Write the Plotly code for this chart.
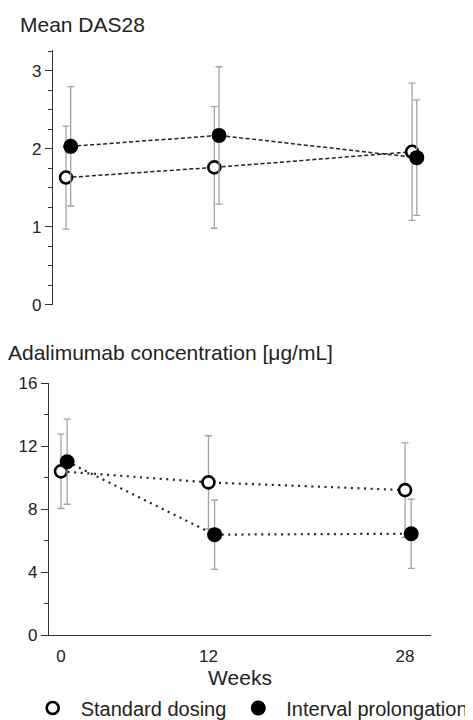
import plotly.graph_objects as go

weeks = [0, 12, 28]
week_labels = ["0", "12", "28"]

das_std_mean = [1.63, 1.76, 1.96]
das_std_sd = [0.66, 0.78, 0.88]
das_int_mean = [2.03, 2.17, 1.885]
das_int_sd = [0.765, 0.88, 0.74]

ada_std_mean = [10.41, 9.71, 9.22]
ada_std_sd = [2.36, 2.96, 3.0]
ada_int_mean = [11.02, 6.39, 6.45]
ada_int_sd = [2.7, 2.2, 2.2]

series_names = ["Standard dosing", "Interval prolongation"]

# page body has an 8px margin: layout is expressed in page pixels minus 8
OFF = 8
W, H = 473, 720
FONT = "Arial, Liberation Sans, sans-serif"
AX = "#333333"
EB = "#a3a3a3"


def fx(px):
    return (px - OFF) / W


def fy(py):
    return 1 - (py - OFF) / H


def shift(xs, d):
    return [x + d for x in xs]


fig = go.Figure()


def add_panel(xa, ya, std_m, std_sd, int_m, int_sd, dash, lw, dodge, legend):
    fig.add_trace(go.Scatter(x=weeks, y=std_m, mode="lines", xaxis=xa, yaxis=ya,
                             line=dict(color="#222", width=lw, dash=dash), showlegend=False, hoverinfo="skip"))
    fig.add_trace(go.Scatter(x=shift(weeks, dodge), y=int_m, mode="lines", xaxis=xa, yaxis=ya,
                             line=dict(color="#222", width=lw, dash=dash), showlegend=False, hoverinfo="skip"))
    fig.add_trace(go.Scatter(x=weeks, y=std_m, mode="markers", xaxis=xa, yaxis=ya,
                             name=series_names[0], showlegend=legend, legend="legend",
                             error_y=dict(type="data", array=std_sd, visible=True, color=EB, thickness=1.3, width=3.5),
                             marker=dict(symbol="circle", size=12, color="white", line=dict(color="black", width=2.6))))
    fig.add_trace(go.Scatter(x=shift(weeks, dodge), y=int_m, mode="markers", xaxis=xa, yaxis=ya,
                             name=series_names[1], showlegend=legend, legend="legend2",
                             error_y=dict(type="data", array=int_sd, visible=True, color=EB, thickness=1.3, width=3.5),
                             marker=dict(symbol="circle", size=15, color="black", line=dict(width=0))))


add_panel("x", "y", das_std_mean, das_std_sd, das_int_mean, das_int_sd, "4px,2.5px", 1.5, 0.38, False)
add_panel("x2", "y2", ada_std_mean, ada_std_sd, ada_int_mean, ada_int_sd, "2px,4.6px", 2.2, 0.5, True)

yax_common = dict(showline=True, linecolor=AX, linewidth=1.3, ticks="outside", ticklen=7,
                  tickcolor=AX, tickwidth=1.3, showgrid=False, zeroline=False,
                  tickfont=dict(family=FONT, size=17, color="#222"))

leg_common = dict(orientation="h", yanchor="middle", xanchor="left", itemwidth=46,
                  font=dict(family=FONT, size=20, color="#222"), bgcolor="rgba(0,0,0,0)",
                  itemclick=False, itemdoubleclick=False)

fig.update_layout(
    width=W, height=H, margin=dict(l=0, r=0, t=0, b=0, autoexpand=False),
    paper_bgcolor="white", plot_bgcolor="white",
    font=dict(family=FONT, color="#222"),
    xaxis=dict(domain=[fx(53), fx(431)], range=[-1.052, 29.53], visible=False, anchor="y"),
    yaxis=dict(domain=[fy(304.7), fy(49.6)], range=[0, 3.27], anchor="x",
               tickvals=[0, 1, 2, 3], minor=dict(ticks="outside", dtick=0.25, ticklen=4, tickcolor=AX, tickwidth=1.2),
               **yax_common),
    xaxis2=dict(domain=[fx(49), fx(431)], range=[-0.976, 30.11], anchor="y2",
                showline=True, linecolor=AX, linewidth=1.3, ticks="", showgrid=False, zeroline=False,
                tickvals=weeks, ticktext=week_labels, ticklabelstandoff=5,
                tickfont=dict(family=FONT, size=17, color="#222"),
                title=dict(text="Weeks", font=dict(family=FONT, size=21, color="#222"), standoff=4)),
    yaxis2=dict(domain=[fy(635.3), fy(383.3)], range=[0, 16], anchor="x2",
                tickvals=[0, 4, 8, 12, 16], minor=dict(ticks="outside", dtick=2, ticklen=4, tickcolor=AX, tickwidth=1.2),
                **yax_common),
    legend=dict(x=fx(52.7 - 28), y=fy(708), **leg_common),
    legend2=dict(x=fx(258.3 - 28), y=fy(708), **leg_common),
    annotations=[
        dict(text="Mean DAS28", x=fx(18), y=fy(24), xref="paper", yref="paper",
             xanchor="left", yanchor="middle", showarrow=False, font=dict(family=FONT, size=21, color="#222")),
        dict(text="Adalimumab concentration [\u03bcg/mL]", x=fx(6), y=fy(352), xref="paper", yref="paper",
             xanchor="left", yanchor="middle", showarrow=False, font=dict(family=FONT, size=21, color="#222")),
    ],
)

fig.write_html("out.html")
